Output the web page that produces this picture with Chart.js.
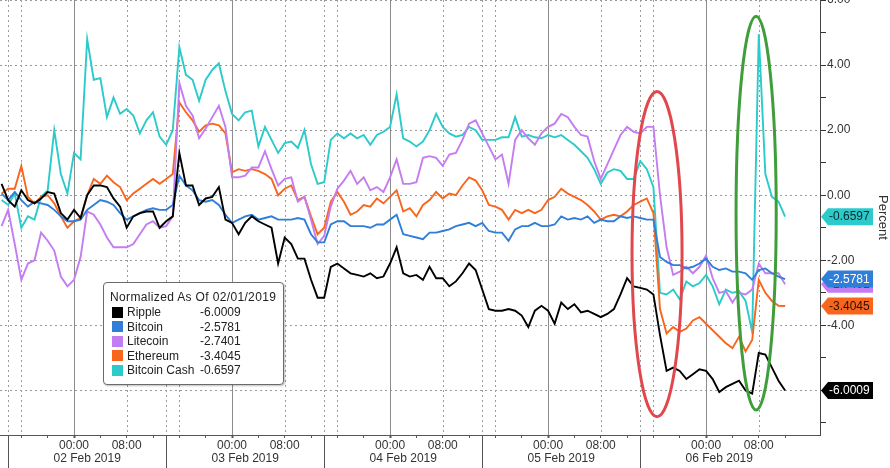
<!DOCTYPE html>
<html>
<head>
<meta charset="utf-8">
<title>Crypto – normalized moves</title>
<script src="https://cdn.jsdelivr.net/npm/chart.js@4.4.1/dist/chart.umd.min.js"></script>
<style>
  html, body { margin: 0; padding: 0; background: #fff; }
  #wrap { position: relative; width: 890px; height: 468px; overflow: hidden; }
  #chart { display: block; }
  .legend {
    position: absolute; left: 103px; top: 282px; width: 181px; height: 103px;
    box-sizing: border-box; border: 1px solid #6b6b6b; border-radius: 4px;
    background: #fff; box-shadow: 1px 1px 2px rgba(0,0,0,0.25);
    font-family: 'Liberation Sans', Arial, sans-serif; font-size: 12px; color: #222;
    padding: 6px 0 0 8px;
  }
  .legend .title { line-height: 16px; margin-left: -2px; white-space: nowrap; letter-spacing: 0.35px; }
  .legend .row { display: flex; align-items: center; height: 14.5px; white-space: nowrap; }
  .legend .sw { width: 11px; height: 11px; margin-right: 4px; flex: none; }
  .legend .name { width: 73px; }
</style>
</head>
<body>
<div id="wrap">
  <canvas id="chart" width="890" height="468"></canvas>
  <div class="legend" id="legend"></div>
</div>
<script>
'use strict';

// ── Data (hours from 02 Feb 2019 00:00, percent vs 02/01/2019) ──
const HOURS = [
  -11, -10, -9, -8, -7, -6, -5, -4, -3, -2, -1,
  0, 1, 2, 3, 4, 5, 6, 7, 8, 9, 10, 11, 12, 13, 14, 15, 16, 17, 18, 19, 20, 21, 22, 23,
  24, 25, 26, 27, 28, 29, 30, 31, 32, 33, 34, 35, 36, 37, 38, 39, 40, 41, 42, 43, 44, 45, 46, 47,
  48, 49, 50, 51, 52, 53, 54, 55, 56, 57, 58, 59, 60, 61, 62, 63, 64, 65, 66, 67, 68, 69, 70, 71,
  72, 73, 74, 75, 76, 77, 78, 79, 80, 81, 82, 83, 84, 85, 86, 87, 88, 89, 90, 91, 92, 93, 94, 95,
  96, 97, 98, 99, 100, 101, 102, 103, 104, 105, 106, 107, 108
];

const RIPPLE = [
  0.35, -0.15, -0.35, 0.15, -0.15, -0.25, -0.1, 0.1, 0.05, -0.55, -0.75,
  -0.45, -0.7, 0.0, 0.3, 0.3, 0.25, -0.1, -0.35, -1.0, -0.65, -0.55, -0.5, -0.5, -1.0, -0.8, -0.65, 1.3, 0.3, 0.3, -0.3, -0.1, -0.05, 0.25, -0.75,
  -0.85, -1.2, -0.85, -0.65, -0.8, -0.9, -1.0, -2.1, -1.3, -1.5, -1.95, -1.95, -2.6, -3.15, -3.15, -2.2, -2.1, -2.25, -2.4, -2.45, -2.5, -2.4, -2.55, -2.5,
  -2.1, -1.6, -2.4, -2.5, -2.45, -2.6, -2.2, -2.55, -2.55, -2.8, -2.65, -2.4, -2.1, -2.3, -2.9, -3.5, -3.55, -3.55, -3.5, -3.55, -3.7, -4.05, -3.55, -3.4,
  -3.55, -3.95, -3.3, -3.5, -3.35, -3.6, -3.55, -3.65, -3.75, -3.65, -3.5, -3.05, -2.55, -2.8, -2.85, -2.9, -3.05, -4.3, -5.4, -5.3, -5.4, -5.65, -5.5, -5.35,
  -5.4, -5.65, -6.05, -5.9, -5.8, -5.7, -6.0, -6.1, -4.85, -4.9, -5.3, -5.7, -6.0009
];

const BITCOIN = [
  0.05, -0.15, 0.1, -0.15, -0.35, -0.2, -0.25, -0.3, -0.45, -0.65, -0.8,
  -0.8, -0.75, -0.45, -0.3, -0.15, -0.2, -0.3, -0.55, -0.75, -0.65, -0.55, -0.45, -0.4, -0.45, -0.45, -0.3, 0.6, 0.3, 0.15, -0.15, -0.2, -0.15, -0.3, -0.6,
  -0.85, -0.75, -0.65, -0.6, -0.75, -0.7, -0.65, -0.75, -0.75, -0.75, -0.7, -0.75, -1.2, -1.45, -1.45, -0.9, -0.8, -0.8, -0.95, -0.95, -0.95, -1.0, -0.9, -0.9,
  -0.75, -0.6, -1.2, -1.25, -1.3, -1.35, -1.15, -1.15, -1.1, -1.05, -0.95, -0.9, -0.85, -0.95, -0.85, -1.1, -1.15, -1.15, -1.4, -1.05, -0.95, -0.95, -0.85, -0.95,
  -0.95, -0.9, -0.65, -0.75, -0.7, -0.75, -0.65, -0.85, -0.75, -0.8, -0.8, -0.65, -0.7, -0.65, -0.7, -0.75, -0.75, -1.9, -2.05, -2.15, -2.15, -2.25, -2.2, -2.1,
  -1.95, -2.2, -2.3, -2.25, -2.35, -2.35, -2.4, -2.6, -2.3, -2.25, -2.4, -2.5, -2.5781
];

const LITECOIN = [
  -0.95, -0.45, -1.5, -2.6, -2.1, -2.0, -1.15, -1.4, -1.7, -2.5, -2.8,
  -2.6, -1.9, -0.5, -0.6, -0.9, -1.3, -1.6, -1.6, -1.6, -1.5, -1.2, -0.9, -0.8, -1.0, -0.95, -0.65, 3.45, 2.75, 2.45, 1.75, 2.05, 2.4, 2.75, 2.1,
  0.55, 0.55, 0.6, 0.85, 0.85, 1.35, 0.8, 0.3, 0.5, 0.55, -0.2, -0.05, -0.75, -1.5, -1.25, -0.35, 0.2, 0.45, 0.75, 0.35, 0.55, 0.15, 0.25, 0.1,
  0.55, 1.1, 0.35, 0.35, 0.4, 1.15, 1.2, 1.15, 0.9, 1.25, 1.3, 1.7, 2.2, 2.3, 1.9, 1.5, 1.1, 1.25, 0.35, 1.7, 2.0, 1.75, 1.55, 1.9,
  2.1, 2.2, 2.5, 2.4, 2.1, 1.85, 1.8, 1.05, 0.5, 0.95, 1.4, 1.85, 2.1, 1.95, 1.9, 2.1, 2.1, 0.0, -1.6, -2.45, -2.35, -2.2, -2.4, -2.2,
  -1.85, -2.55, -3.0, -2.95, -3.3, -3.0, -3.05, -2.9, -2.1, -2.4, -2.4, -2.4, -2.7401
];

const ETHEREUM = [
  0.05, 0.2, 0.2, 0.9, -0.05, -0.25, -0.05, 0.0, -0.25, -0.65, -1.0,
  -0.8, -0.7, 0.0, 0.5, 0.35, 0.6, 0.4, 0.25, -0.15, 0.05, 0.2, 0.35, 0.5, 0.35, 0.5, 0.65, 2.85, 2.55, 2.3, 1.95, 2.15, 2.2, 2.15, 1.9,
  0.7, 0.8, 0.75, 0.8, 0.75, 0.65, 0.5, 0.0, 0.2, 0.3, -0.15, -0.05, -0.65, -1.2, -1.0, -0.2, 0.1, -0.2, -0.6, -0.5, -0.3, -0.35, -0.1, -0.25,
  -0.05, 0.15, -0.5, -0.4, -0.65, -0.3, -0.15, 0.1, -0.1, 0.05, 0.0, 0.3, 0.55, 0.45, 0.15, -0.3, -0.35, -0.45, -0.75, -0.45, -0.55, -0.45, -0.55, -0.45,
  -0.15, -0.05, 0.2, 0.05, -0.05, -0.15, -0.3, -0.5, -0.75, -0.65, -0.6, -0.65, -0.5, -0.3, -0.2, -0.1, -0.55, -3.5, -4.25, -4.05, -4.2, -4.1, -3.85, -3.75,
  -3.95, -4.15, -4.35, -4.55, -4.7, -4.35, -4.8, -4.45, -2.6, -3.0, -3.25, -3.4, -3.4045
];

const BITCOIN_CASH = [
  -0.15, -0.3, 0.05, -1.0, -0.65, -0.75, -0.05, 0.15, 2.0, 0.65, 0.05,
  1.3, 1.1, 4.8, 3.55, 3.6, 2.4, 3.0, 2.5, 2.65, 2.45, 1.9, 2.3, 2.55, 1.8, 1.55, 2.0, 4.55, 3.7, 3.55, 2.9, 3.55, 3.85, 4.05, 3.2,
  2.5, 2.3, 2.55, 2.6, 1.5, 2.1, 1.7, 1.3, 1.6, 1.65, 1.45, 2.0, 0.95, 0.35, 0.4, 1.7, 1.9, 1.75, 1.9, 1.75, 1.85, 1.55, 1.85, 1.95,
  2.1, 3.1, 1.75, 1.65, 1.5, 1.65, 2.0, 2.5, 2.1, 1.9, 1.8, 1.85, 2.1, 2.0, 1.7, 1.7, 1.7, 1.78, 1.78, 2.4, 1.8, 1.85, 1.78, 1.75,
  1.85, 1.78, 1.85, 1.7, 1.55, 1.35, 1.15, 0.8, 0.35, 0.7, 0.8, 0.75, 0.5, 0.5, 1.05, 0.8, 0.25, -3.0, -3.05, -2.9, -3.2, -2.65, -2.8, -2.7,
  -2.45, -2.8, -3.35, -2.9, -3.0, -2.95, -3.25, -4.2, 4.95, 0.65, -0.05, -0.2, -0.6597
];

const SERIES_NAMES  = ['Ripple', 'Bitcoin', 'Litecoin', 'Ethereum', 'Bitcoin Cash'];
const SERIES_COLORS = ['#000000', '#2f7fd9', '#c47cf2', '#f8661d', '#2ccaca'];
const TAG_TEXT      = ['#ffffff', '#ffffff', '#222222', '#2a1000', '#0c2a2a'];
const TAG_ORDER     = [4, 2, 1, 3, 0];   // purple under blue, black last

// Axis ranges and ticks
const X_MIN = -11.24, X_MAX = 113.3;
const Y_MIN = -7.37,  Y_MAX = 6.0;
const LAST_TICK_HOUR = 108;
const CLOCK_LABELS = { 0: '00:00', 8: '08:00' };
const DAY_CENTER_HOURS = [2, 26, 50, 74, 98];
const DAY_LABELS = ['02 Feb 2019', '03 Feb 2019', '04 Feb 2019', '05 Feb 2019', '06 Feb 2019'];
const MIDNIGHT_HOURS = [0, 24, 48, 72, 96];
const DOTTED_HOURS = [-10, -8, 8, 14, 16, 32, 38, 40, 56, 62, 64, 80, 86, 88, 104];
const SEPARATOR_HOURS = [-10, 14, 38, 62, 86];

// Highlight rings: centre hour, centre value, half-width (h), half-height (%)
const RINGS = [
  { h: 88.55, v: -1.81, rh: 3.8, rv: 5.0,  color: '#e0484e' },
  { h: 103.6, v: -0.55, rh: 3.05, rv: 6.05, color: '#3f9d3a' }
];

const SERIES = [RIPPLE, BITCOIN, LITECOIN, ETHEREUM, BITCOIN_CASH];
const FONT = "'Liberation Sans', Arial, sans-serif";

// ── Legend (HTML box over the plot) ───────────
function renderLegend() {
  let html = '<div class="title">Normalized As Of 02/01/2019</div>';
  SERIES_NAMES.forEach((name, i) => {
    const last = SERIES[i][SERIES[i].length - 1];
    html += `<div class="row"><span class="sw" style="background:${SERIES_COLORS[i]}"></span>` +
            `<span class="name">${name}</span><span>${last.toFixed(4)}</span></div>`;
  });
  document.getElementById('legend').innerHTML = html;
}

// ── Session lines, separators, rings, last-value tags ──
const decorations = {
  id: 'decorations',
  beforeDatasetsDraw(chart) {
    const { ctx, chartArea: a, scales: { x } } = chart;
    ctx.save();
    ctx.lineWidth = 1;
    ctx.strokeStyle = '#8c8c8c';
    MIDNIGHT_HOURS.forEach(h => {
      const px = Math.round(x.getPixelForValue(h)) + 0.5;
      ctx.beginPath(); ctx.moveTo(px, a.top); ctx.lineTo(px, a.bottom); ctx.stroke();
    });
    ctx.strokeStyle = '#9c9c9c';
    ctx.setLineDash([2, 3]);
    DOTTED_HOURS.forEach(h => {
      const px = Math.round(x.getPixelForValue(h)) + 0.5;
      ctx.beginPath(); ctx.moveTo(px, a.top); ctx.lineTo(px, a.bottom); ctx.stroke();
    });
    ctx.restore();
  },
  afterDatasetsDraw(chart) {
    const { ctx, scales: { x, y } } = chart;
    ctx.save();
    ctx.lineWidth = 3;
    RINGS.forEach(r => {
      const cx = x.getPixelForValue(r.h), cy = y.getPixelForValue(r.v);
      const rx = Math.abs(x.getPixelForValue(r.h + r.rh) - cx);
      const ry = Math.abs(y.getPixelForValue(r.v + r.rv) - cy);
      ctx.strokeStyle = r.color;
      ctx.beginPath(); ctx.ellipse(cx, cy, rx, ry, 0, 0, Math.PI * 2); ctx.stroke();
    });
    ctx.restore();
  },
  afterDraw(chart) {
    const { ctx, chartArea: a, scales: { x, y } } = chart;
    ctx.save();
    // day separators below the time axis
    ctx.strokeStyle = '#555';
    ctx.lineWidth = 1;
    SEPARATOR_HOURS.forEach(h => {
      const px = Math.round(x.getPixelForValue(h)) + 0.5;
      ctx.beginPath(); ctx.moveTo(px, a.bottom); ctx.lineTo(px, chart.height); ctx.stroke();
    });
    // last-value tags on the right axis
    ctx.font = `12px ${FONT}`;
    ctx.textBaseline = 'middle';
    ctx.textAlign = 'left';
    const tip = y.left + 1, left = tip + 7, right = left + 45, hh = 8.5;
    TAG_ORDER.forEach(i => {
      const last = SERIES[i][SERIES[i].length - 1];
      const py = y.getPixelForValue(last);
      ctx.fillStyle = SERIES_COLORS[i];
      ctx.beginPath();
      ctx.moveTo(tip, py);
      ctx.lineTo(left, py - hh);
      ctx.lineTo(right, py - hh);
      ctx.lineTo(right, py + hh);
      ctx.lineTo(left, py + hh);
      ctx.closePath();
      ctx.fill();
      ctx.fillStyle = TAG_TEXT[i];
      ctx.fillText(last.toFixed(4), left + 1, py + 0.5);
    });
    ctx.restore();
  }
};

// ── Build chart ───────────────────────────────
function buildChart() {
  const ctx = document.getElementById('chart').getContext('2d');
  const datasets = SERIES.map((vals, i) => ({
    label: SERIES_NAMES[i],
    data: HOURS.map((h, j) => ({ x: h, y: vals[j] })),
    borderColor: SERIES_COLORS[i],
    borderWidth: 1.9,
    pointRadius: 0,
    tension: 0,
    fill: false
  }));

  new Chart(ctx, {
    type: 'line',
    data: { datasets },
    options: {
      responsive: false,
      animation: false,
      layout: { padding: 0 },
      plugins: { legend: { display: false }, tooltip: { enabled: false } },
      scales: {
        x: {
          type: 'linear', position: 'bottom', min: X_MIN, max: X_MAX,
          afterBuildTicks: s => { s.ticks = s.ticks.filter(t => t.value <= LAST_TICK_HOUR); },
          ticks: {
            stepSize: 4, includeBounds: false, autoSkip: false, maxRotation: 0, padding: 0,
            color: '#333', font: { family: FONT, size: 12 },
            callback: v => CLOCK_LABELS[((v % 24) + 24) % 24] || ''
          },
          grid: {
            drawOnChartArea: false, tickLength: 3, tickColor: '#555',
            tickWidth: c => (c.tick && ((c.tick.value % 24) + 24) % 24 === 0) ? 2 : 1
          },
          border: { color: '#555' },
          afterFit: s => { s.height = 16; s.paddingLeft = 0; s.paddingRight = 0; }
        },
        xDate: {
          type: 'linear', position: 'bottom', weight: 1, min: X_MIN, max: X_MAX,
          afterBuildTicks: s => { s.ticks = DAY_CENTER_HOURS.map(v => ({ value: v })); },
          ticks: {
            autoSkip: false, maxRotation: 0, padding: 0,
            color: '#333', font: { family: FONT, size: 12 },
            callback: (v, i) => DAY_LABELS[i]
          },
          grid: { display: false, drawTicks: false },
          border: { display: false },
          afterFit: s => { s.height = 17; s.paddingLeft = 0; s.paddingRight = 0; }
        },
        y: {
          position: 'right', min: Y_MIN, max: Y_MAX,
          ticks: {
            stepSize: 1, includeBounds: false, padding: 1,
            color: '#333', font: { family: FONT, size: 12 },
            callback: v => (v % 2 === 0 ? v.toFixed(2) : '')
          },
          grid: {
            color: c => (c.tick && c.tick.value % 2 === 0) ? '#9a9a9a' : 'rgba(0,0,0,0)',
            tickColor: '#333', tickLength: 6
          },
          border: { color: '#444', dash: [2, 3] },
          title: { display: true, text: 'Percent', color: '#333', font: { family: FONT, size: 13 }, padding: 0 },
          afterFit: s => { s.width = 70; s.paddingTop = 0; s.paddingBottom = 0; }
        }
      }
    },
    plugins: [decorations]
  });
}

// ── INIT ─────────────────────────────────────────
document.addEventListener('DOMContentLoaded', () => {
  renderLegend();
  buildChart();
});
</script>
</body>
</html>
